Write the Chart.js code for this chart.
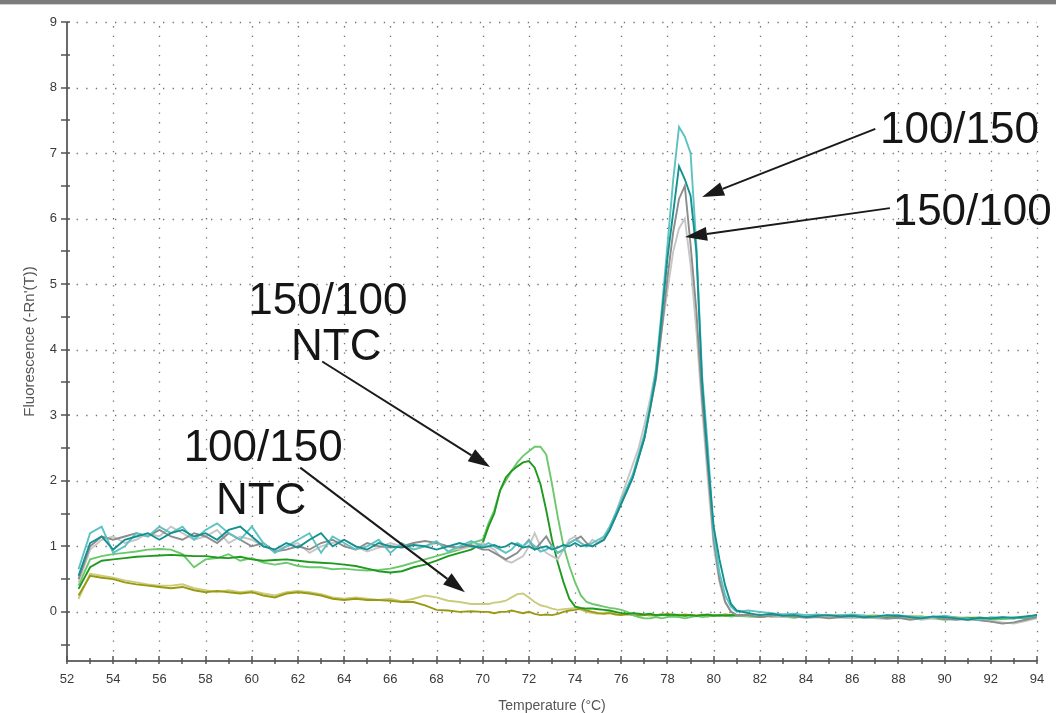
<!DOCTYPE html>
<html lang="en">
<head>
<meta charset="UTF-8">
<title>Melt curve</title>
<script src="https://cdn.jsdelivr.net/npm/chart.js"></script>
<style>
  html, body { margin: 0; padding: 0; background: #fff; }
  #wrap { width: 1056px; height: 713px; position: relative; }
</style>
</head>
<body>
<div id="wrap"><canvas id="melt" width="1056" height="713"></canvas></div>
<script>
// Temperatures (°C) at which the derivative was read
const temps = [
  52.5, 53, 53.5, 54, 54.5, 55, 55.5, 56, 56.5, 57, 57.5, 58, 58.5, 59, 59.5, 60, 60.5, 61, 61.5, 62, 62.5, 63, 63.5, 64, 64.5, 65, 65.5, 66, 66.5, 67, 67.5, 68, 68.5, 69, 69.5, 70,
  70.25, 70.5, 70.75, 71, 71.25, 71.5, 71.75, 72, 72.25, 72.5, 72.75, 73, 73.25, 73.5, 73.75, 74, 74.25, 74.5, 74.75, 75, 75.25, 75.5, 75.75, 76, 76.25, 76.5, 76.75, 77, 77.25, 77.5, 77.75, 78, 78.25, 78.5, 78.75, 79, 79.25, 79.5, 79.75, 80, 80.25, 80.5, 80.75, 81,
  81.5, 82, 82.5, 83, 83.5, 84, 84.5, 85, 85.5, 86, 86.5, 87, 87.5, 88, 88.5, 89, 89.5, 90, 90.5, 91, 91.5, 92, 92.5, 93, 93.5, 94
];

// 100/150 (teal)
const tealDark = [
  0.55, 1.05, 1.15, 0.95, 1.1, 1.15, 1.2, 1.1, 1.2, 1.25, 1.15, 1.2, 1.1, 1.25, 1.3, 1.15, 1.0, 0.95, 1.05, 0.98, 1.1, 1.2, 1.0, 1.1, 1.0, 0.95, 1.05, 1.0, 0.98, 1.02, 1.0, 0.95, 1.0, 1.05, 1.0, 0.98,
  1.0, 1.02, 0.98, 1.0, 1.05, 1.02, 0.98, 1.0, 0.95, 0.98, 1.0, 0.95, 0.98, 1.02, 1.0, 1.05, 1.0, 1.02, 1.0, 1.05, 1.1, 1.25, 1.45, 1.65, 1.85, 2.05, 2.35, 2.65, 3.1, 3.6, 4.5, 5.4, 6.1, 6.8, 6.6, 6.35, 5.5, 3.5, 2.3, 1.3, 0.8, 0.4, 0.12, 0.02,
  -0.02, -0.05, -0.03, -0.06, -0.05, -0.08, -0.06, -0.05, -0.07, -0.06, -0.08, -0.07, -0.05, -0.06, -0.08, -0.1, -0.07, -0.08, -0.1, -0.12, -0.09, -0.1, -0.08, -0.09, -0.07, -0.05
];
const tealLight = [
  0.65, 1.2, 1.3, 0.9, 1.0, 1.2, 1.15, 1.3, 1.2, 1.3, 1.1, 1.25, 1.35, 1.2, 1.1, 1.3, 1.05, 0.9, 1.0, 1.1, 1.2, 0.9, 1.15, 1.05, 0.95, 1.0, 1.1, 0.9, 1.05, 0.95, 1.0, 1.08, 0.92, 1.0, 1.08, 1.0,
  1.05, 1.0, 0.95, 0.9, 0.95, 1.05, 1.0, 1.08, 1.0, 0.92, 0.95, 1.0, 0.9, 0.95, 1.05, 1.1, 1.05, 1.0, 1.05, 1.1, 1.15, 1.3, 1.5, 1.7, 1.9, 2.1, 2.4, 2.7, 3.15, 3.7, 4.6, 5.6, 6.6, 7.4, 7.25, 7.0, 5.6, 3.6, 2.5, 1.2, 0.6, 0.25, 0.08, 0.0,
  0.02, 0.0, -0.02, -0.04, -0.03, -0.05, -0.04, -0.06, -0.05, -0.04, -0.06, -0.08, -0.06, -0.05, -0.07, -0.09, -0.08, -0.06, -0.09, -0.1, -0.12, -0.08, -0.09, -0.1, -0.08, -0.06
];

// 150/100 (grey)
const greyDark = [
  0.5, 1.0, 1.15, 1.1, 1.15, 1.2, 1.15, 1.25, 1.15, 1.1, 1.2, 1.15, 1.05, 1.2, 1.1, 1.0, 1.05, 0.92, 0.95, 1.0, 0.95, 1.05, 1.1, 1.0, 0.95, 1.05, 1.0, 0.98, 1.0, 1.05, 1.08, 1.05, 1.0, 0.98, 1.02, 0.95,
  0.95, 0.9, 0.85, 0.8, 0.85, 0.9, 1.0, 1.1, 0.95, 1.05, 1.15, 1.0, 0.9, 0.95, 1.05, 1.1, 1.15, 1.05, 1.0, 1.05, 1.1, 1.25, 1.45, 1.65, 1.85, 2.05, 2.35, 2.65, 3.1, 3.55, 4.3, 5.1, 5.8, 6.3, 6.5, 5.6, 4.6, 3.25, 2.2, 1.1, 0.5, 0.15, 0.0, -0.05,
  -0.05, -0.08, -0.06, -0.05, -0.07, -0.09, -0.08, -0.1, -0.08, -0.06, -0.09, -0.08, -0.1, -0.09, -0.12, -0.1, -0.08, -0.11, -0.12, -0.1, -0.13, -0.15, -0.18, -0.16, -0.12, -0.08
];
const greyLight = [
  0.45, 0.95, 1.1, 1.15, 1.05, 1.1, 1.2, 1.15, 1.3, 1.2, 1.1, 1.15, 1.25, 1.05, 1.15, 1.1, 1.0, 0.95, 1.0, 1.05, 0.9, 1.0, 1.05, 1.1, 1.0, 0.92, 0.98, 1.05, 1.0, 0.95, 1.0, 1.05, 1.0, 0.95, 1.0, 1.05,
  1.0, 0.95, 0.85, 0.78, 0.75, 0.8, 0.85, 1.0, 1.2, 1.0, 0.9, 0.85, 0.8, 0.95, 1.1, 1.15, 1.05, 1.0, 1.1, 1.05, 1.15, 1.3, 1.5, 1.75, 2.0, 2.25, 2.5, 2.85, 3.25, 3.7, 4.3, 4.9, 5.5, 5.85, 6.0, 5.3, 4.3, 3.1, 2.0, 1.0, 0.45, 0.15, 0.0, -0.05,
  -0.06, -0.04, -0.07, -0.08, -0.06, -0.05, -0.08, -0.07, -0.09, -0.1, -0.08, -0.1, -0.11, -0.09, -0.08, -0.12, -0.1, -0.09, -0.11, -0.13, -0.12, -0.14, -0.16, -0.18, -0.14, -0.1
];

// 150/100 NTC (green)
const greenDark = [
  0.35, 0.68, 0.78, 0.8, 0.82, 0.84, 0.85, 0.86, 0.87, 0.86, 0.85, 0.85, 0.83, 0.82, 0.84, 0.8, 0.78, 0.79, 0.8, 0.78, 0.76, 0.75, 0.74, 0.72, 0.7, 0.66, 0.62, 0.6, 0.62, 0.68, 0.72, 0.78, 0.85, 0.9, 0.95, 1.05,
  1.3, 1.5, 1.85, 2.05, 2.15, 2.22, 2.28, 2.3, 2.2, 1.95, 1.55, 1.1, 0.75, 0.45, 0.2, 0.08, 0.06, 0.05, 0.05, 0.04, 0.03, 0.02, 0.0, -0.02, -0.03, -0.02, -0.03, -0.04, -0.03, -0.05, -0.04, -0.05, -0.04, -0.05, -0.06, -0.05, -0.06, -0.05, -0.04, -0.06, -0.05, -0.06, -0.05, -0.05,
  -0.06, -0.05, -0.07, -0.06, -0.05, -0.08, -0.07, -0.06, -0.08, -0.07, -0.06, -0.08, -0.09, -0.07, -0.08, -0.1, -0.09, -0.08, -0.1, -0.09, -0.11, -0.1, -0.09, -0.1, -0.08, -0.05
];
const greenLight = [
  0.4, 0.8, 0.85, 0.88, 0.9, 0.92, 0.95, 0.96, 0.95, 0.88, 0.68, 0.8, 0.82, 0.88, 0.78, 0.82, 0.75, 0.72, 0.75, 0.7, 0.68, 0.68, 0.65, 0.66, 0.64, 0.63, 0.64, 0.66, 0.7, 0.75, 0.8, 0.85, 0.9, 0.95, 1.05, 1.1,
  1.35, 1.55, 1.85, 2.0, 2.15, 2.28, 2.38, 2.45, 2.52, 2.52, 2.4, 1.95, 1.45, 1.0, 0.7, 0.45, 0.25, 0.15, 0.12, 0.1, 0.08, 0.06, 0.05, 0.03, 0.0, -0.05, -0.08, -0.1, -0.1, -0.08, -0.1, -0.08, -0.07, -0.08, -0.1, -0.08, -0.06, -0.08, -0.07, -0.05, -0.06, -0.05, -0.07, -0.06,
  -0.07, -0.08, -0.06, -0.07, -0.09, -0.06, -0.08, -0.07, -0.06, -0.09, -0.08, -0.07, -0.09, -0.1, -0.08, -0.07, -0.1, -0.12, -0.1, -0.11, -0.1, -0.12, -0.11, -0.1, -0.09, -0.06
];

// 100/150 NTC (olive)
const oliveDark = [
  0.25, 0.55, 0.52, 0.5, 0.45, 0.42, 0.4, 0.38, 0.36, 0.38, 0.33, 0.3, 0.32, 0.3, 0.28, 0.3, 0.25, 0.22, 0.28, 0.3, 0.28, 0.25, 0.2, 0.18, 0.2, 0.18, 0.18, 0.17, 0.15, 0.15, 0.1, 0.03, 0.02, 0.0, 0.01, 0.0,
  0.0, -0.02, 0.0, 0.0, 0.02, 0.0, -0.02, 0.0, -0.03, -0.05, -0.04, -0.05, -0.03, 0.0, 0.02, 0.03, 0.05, 0.02, 0.0, -0.02, -0.03, -0.02, -0.04, -0.05, -0.03, -0.05, -0.06, -0.05, -0.04, -0.06, -0.05, -0.03, -0.05, -0.06, -0.04, -0.05, -0.06, -0.05, -0.07, -0.05, -0.06, -0.04, -0.05, -0.06,
  -0.05, -0.07, -0.06, -0.08, -0.07, -0.06, -0.05, -0.07, -0.08, -0.06, -0.07, -0.09, -0.08, -0.06, -0.09, -0.08, -0.1, -0.08, -0.09, -0.11, -0.1, -0.12, -0.1, -0.09, -0.1, -0.07
];
const oliveLight = [
  0.2, 0.58, 0.55, 0.52, 0.48, 0.45, 0.42, 0.4, 0.4, 0.42, 0.36, 0.33, 0.3, 0.33, 0.3, 0.32, 0.28, 0.25, 0.3, 0.32, 0.3, 0.27, 0.22, 0.2, 0.22, 0.2, 0.18, 0.2, 0.16, 0.2, 0.25, 0.22, 0.17, 0.15, 0.12, 0.12,
  0.12, 0.14, 0.15, 0.17, 0.22, 0.27, 0.28, 0.22, 0.15, 0.1, 0.08, 0.05, 0.03, 0.04, 0.05, 0.06, 0.03, 0.0, -0.02, -0.03, -0.02, 0.0, -0.03, -0.04, -0.05, -0.03, -0.05, -0.04, -0.06, -0.05, -0.04, -0.06, -0.05, -0.04, -0.06, -0.05, -0.07, -0.04, -0.05, -0.06, -0.05, -0.04, -0.06, -0.05,
  -0.04, -0.05, -0.06, -0.04, -0.06, -0.07, -0.05, -0.06, -0.05, -0.07, -0.06, -0.05, -0.07, -0.08, -0.06, -0.07, -0.09, -0.07, -0.08, -0.09, -0.08, -0.1, -0.11, -0.09, -0.08, -0.05
];

// Axis ticks
const xTicks = [52, 54, 56, 58, 60, 62, 64, 66, 68, 70, 72, 74, 76, 78, 80, 82, 84, 86, 88, 90, 92, 94];
const yTicks = [0, 1, 2, 3, 4, 5, 6, 7, 8, 9];

// Callout labels and arrows, in data units (°C, fluorescence)
const labels = [
  { text: '100/150', x: 87.2, y: 7.15 },
  { text: '150/100', x: 87.75, y: 5.9 },
  { text: '150/100', x: 59.85, y: 4.55 },
  { text: 'NTC', x: 61.7, y: 3.85 },
  { text: '100/150', x: 57.05, y: 2.3 },
  { text: 'NTC', x: 58.45, y: 1.5 }
];
const arrows = [
  { from: [87.0, 7.37], to: [79.5, 6.33] },
  { from: [87.63, 6.16], to: [78.76, 5.72] },
  { from: [63.05, 3.82], to: [70.32, 2.21] },
  { from: [62.1, 2.2], to: [69.23, 0.3] }
];

const series = [
  { name: '100/150 a', values: tealDark, color: '#14908f' },
  { name: '100/150 b', values: tealLight, color: '#5cc2c2' },
  { name: '150/100 a', values: greyDark, color: '#8c8c8c' },
  { name: '150/100 b', values: greyLight, color: '#c6c6c6' },
  { name: '150/100 NTC a', values: greenDark, color: '#1f9a1f' },
  { name: '150/100 NTC b', values: greenLight, color: '#6cc86c' },
  { name: '100/150 NTC a', values: oliveDark, color: '#9a9a12' },
  { name: '100/150 NTC b', values: oliveLight, color: '#cbcb7c' }
];

series.forEach(s => {
  if (s.values.length !== temps.length) {
    throw new Error(s.name + ' has ' + s.values.length + ' values, expected ' + temps.length);
  }
});

const FONT = '"Liberation Sans", Arial, sans-serif';

// Dotted grid, axis lines and tick marks
const axesPlugin = {
  id: 'axesPlugin',
  beforeDatasetsDraw(chart) {
    const { ctx, chartArea: a, scales: { x, y } } = chart;
    ctx.save();
    ctx.strokeStyle = '#6e6e6e';
    ctx.lineWidth = 1.3;
    ctx.setLineDash([1.3, 8.3]);
    xTicks.forEach(t => {
      if (t === xTicks[0]) return;
      const px = Math.round(x.getPixelForValue(t)) + 0.5;
      ctx.beginPath();
      ctx.moveTo(px, a.bottom);
      ctx.lineTo(px, a.top);
      ctx.stroke();
    });
    yTicks.forEach(t => {
      const py = Math.round(y.getPixelForValue(t)) + 0.5;
      ctx.beginPath();
      ctx.moveTo(a.left, py);
      ctx.lineTo(a.right, py);
      ctx.stroke();
    });
    ctx.restore();
  },
  afterDatasetsDraw(chart) {
    const { ctx, chartArea: a, scales: { x, y } } = chart;
    ctx.save();
    ctx.strokeStyle = '#6a6a6a';
    ctx.lineWidth = 2;
    ctx.beginPath();
    ctx.moveTo(a.left, a.top);
    ctx.lineTo(a.left, a.bottom);
    ctx.lineTo(a.right, a.bottom);
    ctx.stroke();

    ctx.lineWidth = 1.5;
    ctx.strokeStyle = '#555';
    // y ticks every 0.5
    for (let i = 0; i < yTicks.length; i++) {
      [yTicks[i] - 0.5, yTicks[i]].forEach(v => {
        const py = Math.round(y.getPixelForValue(v));
        ctx.beginPath();
        ctx.moveTo(a.left - 6, py);
        ctx.lineTo(a.left + 3, py);
        ctx.stroke();
      });
    }
    // x ticks every degree
    for (let i = 0; i < xTicks.length; i++) {
      [xTicks[i], xTicks[i] + 1].forEach(v => {
        if (v > xTicks[xTicks.length - 1]) return;
        const px = Math.round(x.getPixelForValue(v));
        const major = v % 2 === 0;
        ctx.beginPath();
        ctx.moveTo(px, a.bottom - (major ? 5 : 3));
        ctx.lineTo(px, a.bottom + 3);
        ctx.stroke();
      });
    }
    ctx.restore();
  },
  afterDraw(chart) {
    const { ctx, width, scales: { x, y } } = chart;
    ctx.save();
    // top frame band
    ctx.fillStyle = '#7c7c7c';
    ctx.fillRect(0, 0, width, 4);
    ctx.fillStyle = '#d0d0d0';
    ctx.fillRect(0, 4, width, 1);

    // callout arrows
    ctx.strokeStyle = '#1a1a1a';
    ctx.fillStyle = '#1a1a1a';
    ctx.lineWidth = 2;
    arrows.forEach(ar => {
      const x1 = x.getPixelForValue(ar.from[0]), y1 = y.getPixelForValue(ar.from[1]);
      const x2 = x.getPixelForValue(ar.to[0]), y2 = y.getPixelForValue(ar.to[1]);
      const ang = Math.atan2(y2 - y1, x2 - x1);
      const len = 22, half = 7;
      const bx = x2 - len * Math.cos(ang), by = y2 - len * Math.sin(ang);
      ctx.beginPath();
      ctx.moveTo(x1, y1);
      ctx.lineTo(bx, by);
      ctx.stroke();
      ctx.beginPath();
      ctx.moveTo(x2, y2);
      ctx.lineTo(bx + half * Math.sin(ang), by - half * Math.cos(ang));
      ctx.lineTo(bx - half * Math.sin(ang), by + half * Math.cos(ang));
      ctx.closePath();
      ctx.fill();
    });

    // callout text
    ctx.fillStyle = '#151515';
    ctx.font = '44px ' + FONT;
    ctx.textAlign = 'left';
    ctx.textBaseline = 'alphabetic';
    labels.forEach(l => {
      ctx.fillText(l.text, x.getPixelForValue(l.x), y.getPixelForValue(l.y));
    });
    ctx.restore();
  }
};

new Chart(document.getElementById('melt'), {
  type: 'line',
  data: {
    datasets: series.map(s => ({
      label: s.name,
      data: temps.map((t, i) => ({ x: t, y: s.values[i] })),
      borderColor: s.color,
      borderWidth: 1.9,
      pointRadius: 0,
      tension: 0,
      fill: false
    }))
  },
  options: {
    responsive: false,
    animation: false,
    layout: { padding: { left: 5, right: 19, top: 22, bottom: 0 } },
    plugins: {
      legend: { display: false },
      tooltip: { enabled: false }
    },
    scales: {
      x: {
        type: 'linear',
        min: 52,
        max: 94,
        afterBuildTicks: scale => { scale.ticks = xTicks.map(v => ({ value: v })); },
        afterFit: scale => { scale.height = 52; },
        grid: { display: false, drawTicks: false },
        border: { display: false },
        ticks: {
          padding: 11,
          color: '#3a3a3a',
          font: { family: FONT, size: 13 },
          maxRotation: 0,
          autoSkip: false
        },
        title: {
          display: true,
          text: 'Temperature (°C)',
          color: '#555',
          font: { family: FONT, size: 14 },
          padding: { top: 0, bottom: -2 }
        }
      },
      y: {
        type: 'linear',
        min: -0.75,
        max: 9,
        afterBuildTicks: scale => { scale.ticks = yTicks.map(v => ({ value: v })); },
        afterFit: scale => { scale.width = 62; },
        grid: { display: false, drawTicks: false },
        border: { display: false },
        ticks: {
          padding: 10,
          color: '#3a3a3a',
          font: { family: FONT, size: 13 }
        },
        title: {
          display: true,
          text: "Fluorescence (-Rn'(T))",
          color: '#555',
          font: { family: FONT, size: 15 },
          padding: { top: 16, bottom: 0 }
        }
      }
    }
  },
  plugins: [axesPlugin]
});
</script>
</body>
</html>
